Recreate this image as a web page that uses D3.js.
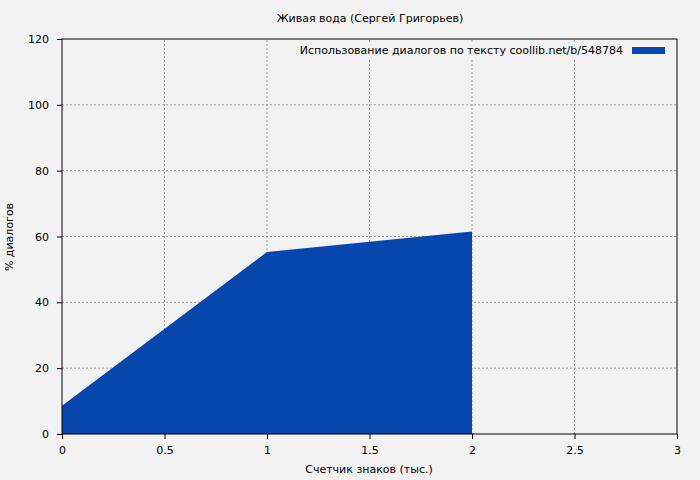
<!DOCTYPE html>
<html><head><meta charset="utf-8"><script src="https://cdn.jsdelivr.net/npm/d3@7"></script>
<style>body{margin:0;background:#f2f2f2}text{font-family:"DejaVu Sans";font-size:11px;fill:#000}</style></head>
<body><svg id="c" width="700" height="480"></svg><script>
const xs=[0,1,2];
const ys=[8.6,55.3,61.5];
const xTicks=[0,0.5,1,1.5,2,2.5,3];
const yTicks=[0,20,40,60,80,100,120];
const title="Живая вода (Сергей Григорьев)";
const legend="Использование диалогов по тексту  coollib.net/b/548784";
const svg=d3.select("#c");
svg.append("rect").attr("width",700).attr("height",480).attr("fill","#f2f2f2");
const L=62,R=677,T=39,B=434;
const x=d3.scaleLinear().domain([0,3]).range([L,R]);
const y=d3.scaleLinear().domain([0,120]).range([B,T]);
const g=svg.append("g");
xTicks.slice(1,-1).forEach(t=>g.append("line").attr("x1",x(t)).attr("x2",x(t)).attr("y1",B).attr("y2",T).attr("stroke","#999").attr("stroke-dasharray","2,2"));
yTicks.slice(1,-1).forEach(t=>g.append("line").attr("x1",L).attr("x2",R).attr("y1",y(t)).attr("y2",y(t)).attr("stroke","#999").attr("stroke-dasharray","2,2"));
const data=xs.map((d,i)=>[d,ys[i]]);
svg.append("path").datum(data).attr("fill","#0646ad").attr("d",d3.area().x(d=>x(d[0])).y0(B).y1(d=>y(d[1])));
svg.append("rect").attr("x",305).attr("y",42).attr("width",368).attr("height",18).attr("fill","#f2f2f2");
svg.append("rect").attr("x",L).attr("y",T).attr("width",R-L).attr("height",B-T).attr("fill","none").attr("stroke","#000");
svg.append("g").attr("transform",`translate(0,${B})`).call(d3.axisBottom(x).tickValues(xTicks).tickSize(5).tickSizeOuter(0).tickFormat(d3.format("")))
 .call(a=>{a.select(".domain").remove();a.selectAll("text").attr("dy","1.1em");});
svg.append("g").attr("transform",`translate(${L},0)`).call(d3.axisLeft(y).tickValues(yTicks).tickSize(5).tickSizeOuter(0))
 .call(a=>{a.select(".domain").remove();a.selectAll("text").attr("x",-13);});
svg.selectAll(".tick text").style("font-family","DejaVu Sans").style("font-size","11px");
svg.append("text").attr("x",370).attr("y",22).attr("text-anchor","middle").text(title);
svg.append("text").attr("x",369).attr("y",473).attr("text-anchor","middle").text("Счетчик знаков (тыс.)");
svg.append("text").attr("transform","translate(13,237) rotate(-90)").attr("text-anchor","middle").text("% диалогов");
svg.append("text").attr("x",623).attr("y",54).attr("text-anchor","end").text(legend);
svg.append("rect").attr("x",632).attr("y",47).attr("width",33).attr("height",7).attr("fill","#0646ad");
</script></body></html>
